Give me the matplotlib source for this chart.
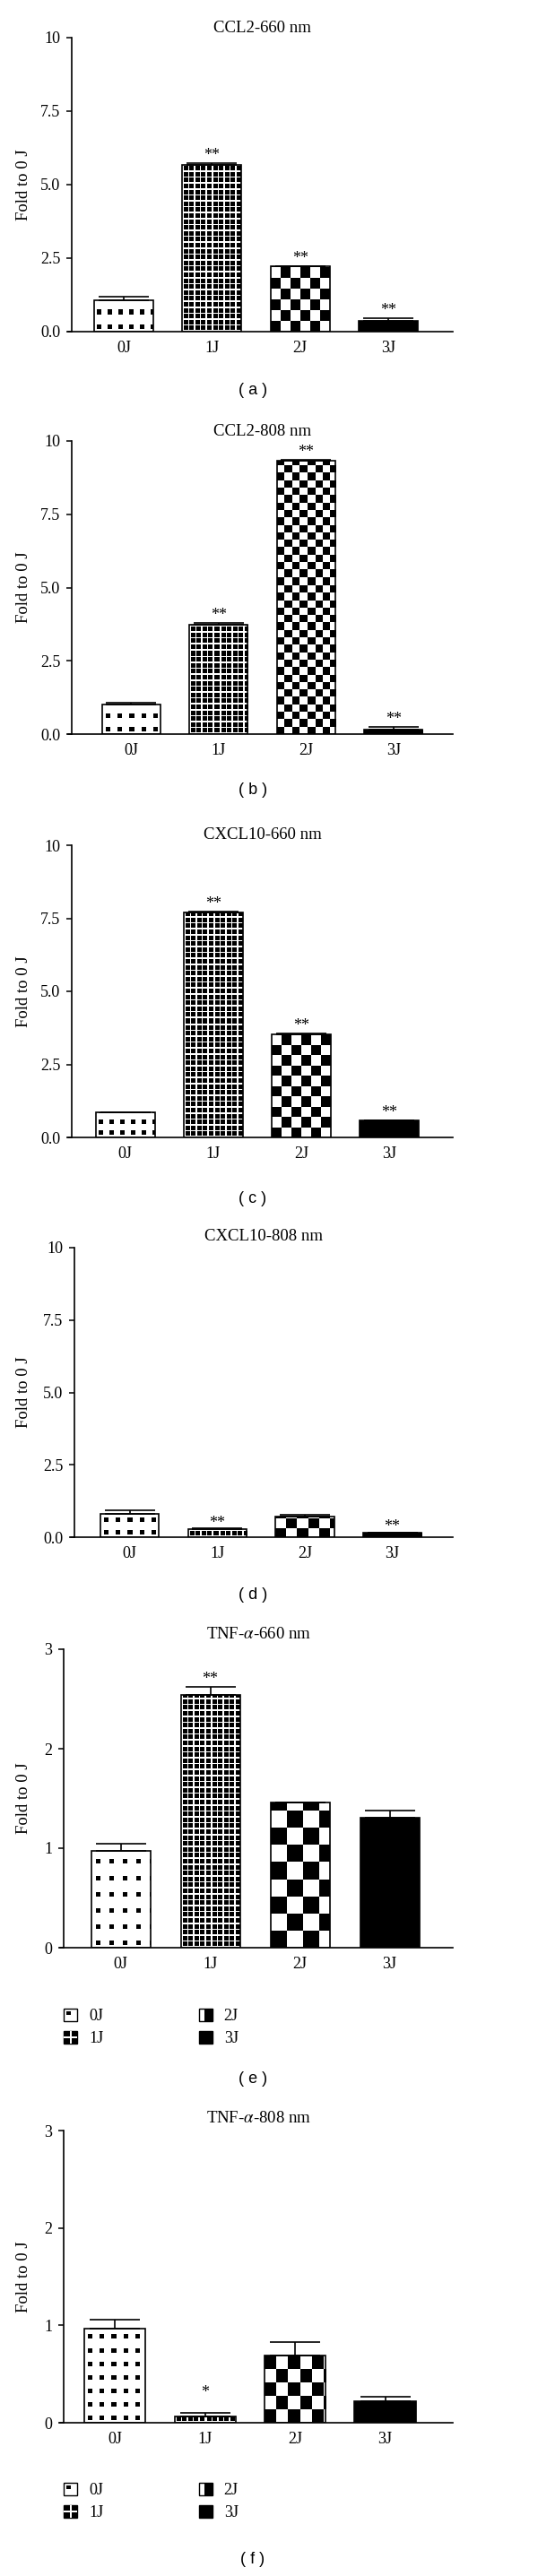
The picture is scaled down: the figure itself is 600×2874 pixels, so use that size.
import numpy as np
import matplotlib
matplotlib.use('Agg')
import matplotlib.pyplot as plt
from matplotlib.patches import Patch, Rectangle
from matplotlib.legend_handler import HandlerBase

plt.rcParams['font.family'] = ['Liberation Serif', 'DejaVu Serif']
plt.rcParams['mathtext.fontset'] = 'stix'

# Data
categories = ['0J', '1J', '2J', '3J']
titles = ['CCL2-660 nm', 'CCL2-808 nm', 'CXCL10-660 nm', 'CXCL10-808 nm',
          'TNF-$\\alpha$-660 nm', 'TNF-$\\alpha$-808 nm']
panel_tags = ['( a )', '( b )', '( c )', '( d )', '( e )', '( f )']

means_a = [1.07, 5.67, 2.22, 0.38]
err_a = [0.12, 0.05, 0.02, 0.09]
means_b = [1.00, 3.74, 9.33, 0.16]
err_b = [0.08, 0.04, 0.03, 0.07]
means_c = [0.85, 7.70, 3.52, 0.57]
err_c = [0.00, 0.03, 0.04, 0.02]
means_d = [0.80, 0.29, 0.72, 0.15]
err_d = [0.13, 0.02, 0.05, 0.02]
means_e = [0.976, 2.54, 1.46, 1.305]
err_e = [0.07, 0.08, 0.00, 0.07]
means_f = [0.97, 0.068, 0.69, 0.22]
err_f = [0.09, 0.035, 0.14, 0.05]

stars_a = ['', '**', '**', '**']
stars_b = ['', '**', '**', '**']
stars_c = ['', '**', '**', '**']
stars_d = ['', '**', '', '**']
stars_e = ['', '**', '', '']
stars_f = ['', '*', '', '']

yticks_big = [0, 2.5, 5, 7.5, 10]
yticklabels_big = ['0.0', '2.5', '5.0', '7.5', '10']
yticks_small = [0, 1, 2, 3]
yticklabels_small = ['0', '1', '2', '3']

all_means = [means_a, means_b, means_c, means_d, means_e, means_f]
all_err = [err_a, err_b, err_c, err_d, err_e, err_f]
all_stars = [stars_a, stars_b, stars_c, stars_d, stars_e, stars_f]

# layout in pixels: left, top, bottom, xlim, title y, tag y, star offset, pattern sizes
W, H = 600, 2874
layout = [
    dict(left=80, top=42, bottom=370, xlim=(-0.59, 3.73), ty=31, tag=435, so=0,
         dot=(12, 16), chk=(11, 12), width=0.67),
    dict(left=80, top=492, bottom=819, xlim=(-0.68, 3.68), ty=481, tag=882, so=0,
         dot=(13, 15), chk=(8.3, 8.3), width=0.67),
    dict(left=80, top=943, bottom=1269, xlim=(-0.61, 3.72), ty=932, tag=1337, so=0,
         dot=(12, 12), chk=(11, 11.5), width=0.67),
    dict(left=83, top=1392, bottom=1715, xlim=(-0.63, 3.69), ty=1379, tag=1780, so=-2,
         dot=(13, 14), chk=(12, 10), width=0.67),
    dict(left=71, top=1840, bottom=2173, xlim=(-0.635, 3.705), ty=1823, tag=2320, so=0,
         dot=(15, 18), chk=(18, 19), width=0.66),
    dict(left=71, top=2377, bottom=2703, xlim=(-0.57, 3.75), ty=2363, tag=2855, so=10,
         dot=(13, 15), chk=(13, 15), width=0.68),
]
kinds = ['dots', 'grid', 'checker', 'solid']


def make_pattern(kind, w, h, lay):
    ii, jj = np.meshgrid(np.arange(w) + 0.5, np.arange(h) + 0.5)
    if kind == 'dots':
        px, py = lay['dot']
        s = 5
        black = (((ii - px / 2 + s / 2) % px) < s) & (((jj - 3) % py) < s)
    elif kind == 'grid':
        g = 6.6
        black = ~(((ii % g) < 1.6) | ((jj % g) < 1.6))
    elif kind == 'checker':
        cx, cy = lay['chk']
        black = ((ii // cx + jj // cy) % 2) == 0
    else:
        black = np.ones_like(ii, dtype=bool)
    return np.where(black, 0.0, 1.0)


class IconHandler(HandlerBase):
    def __init__(self, kind):
        super().__init__()
        self.kind = kind

    def create_artists(self, legend, orig_handle, xdescent, ydescent,
                       width, height, fontsize, trans):
        x0, y0 = -xdescent, -ydescent
        fc = 'black' if self.kind in ('grid', 'solid') else 'white'
        arts = [Rectangle((x0, y0), width, height, facecolor=fc,
                          edgecolor='black', lw=1, transform=trans)]
        if self.kind == 'dots':
            arts.append(Rectangle((x0 + 0.22 * width, y0 + 0.5 * height),
                                  0.28 * width, 0.28 * height,
                                  facecolor='black', lw=0, transform=trans))
        elif self.kind == 'grid':
            arts.append(Rectangle((x0 + 0.44 * width, y0), 0.12 * width, height,
                                  facecolor='white', lw=0, transform=trans))
            arts.append(Rectangle((x0, y0 + 0.44 * height), width, 0.12 * height,
                                  facecolor='white', lw=0, transform=trans))
        elif self.kind == 'checker':
            arts.append(Rectangle((x0 + 0.4 * width, y0), 0.6 * width, height,
                                  facecolor='black', lw=0, transform=trans))
        return arts


fig = plt.figure(figsize=(W / 100, H / 100), dpi=100)

for k in range(6):
    lay = layout[k]
    means = all_means[k]
    errs = all_err[k]
    x = np.arange(len(categories))
    ax = fig.add_axes([lay['left'] / W, 1 - lay['bottom'] / H,
                       (505 - lay['left']) / W, (lay['bottom'] - lay['top']) / H])
    ymax = 10 if k < 4 else 3
    ax.set_xlim(*lay['xlim'])
    ax.set_ylim(0, ymax)

    bars = ax.bar(x, means, lay['width'], facecolor='none', edgecolor='black',
                  linewidth=1.2, zorder=3)
    ax.errorbar(x, means, yerr=[np.zeros(4), errs], fmt='none', ecolor='black',
                elinewidth=1.2, capsize=20, capthick=1.2, zorder=4)

    # fill each bar with its pattern, one image pixel per screen pixel
    sx = (505 - lay['left']) / (lay['xlim'][1] - lay['xlim'][0])
    sy = (lay['bottom'] - lay['top']) / ymax
    for xi, val, kind, bar in zip(x, means, kinds, bars):
        w_px = max(int(round(lay['width'] * sx)), 1)
        h_px = max(int(np.ceil(val * sy)), 1)
        img = make_pattern(kind, w_px, h_px, lay)
        im = ax.imshow(img, cmap='gray', vmin=0, vmax=1, origin='lower',
                       extent=(xi - lay['width'] / 2, xi + lay['width'] / 2, 0, h_px / sy),
                       interpolation='nearest', aspect='auto', zorder=2)
        im.set_clip_path(bar)

    for xi, val, e, st in zip(x, means, errs, all_stars[k]):
        if st:
            ax.annotate(st, (xi, val + e), xytext=(0, lay['so']),
                        textcoords='offset points', ha='center', va='bottom',
                        fontsize=13)

    ax.set_xlim(*lay['xlim'])
    ax.set_ylim(0, ymax)
    ax.set_xticks(x)
    ax.set_xticklabels(categories)
    if k < 4:
        ax.set_yticks(yticks_big)
        ax.set_yticklabels(yticklabels_big)
    else:
        ax.set_yticks(yticks_small)
        ax.set_yticklabels(yticklabels_small)
    ax.tick_params(axis='y', direction='out', length=4, width=1.1, labelsize=13, pad=5)
    ax.tick_params(axis='x', length=0, labelsize=13, pad=7)
    for s in ['top', 'right']:
        ax.spines[s].set_visible(False)
    for s in ['left', 'bottom']:
        ax.spines[s].set_linewidth(1.2)
    ax.spines['bottom'].set_bounds(lay['xlim'][0] - 0.04, lay['xlim'][1])

    ax.set_ylabel('Fold to 0 J', fontsize=13.5)
    ax.yaxis.set_label_coords((35 - lay['left']) / (505 - lay['left']), 0.5)

    fig.text((lay['left'] + 505) / 2 / W, 1 - lay['ty'] / H, titles[k],
             ha='center', va='center', fontsize=13.5)
    fig.text(282 / W, 1 - lay['tag'] / H, panel_tags[k], ha='center', va='center',
             fontsize=13, family=['Liberation Sans', 'DejaVu Sans'])

    if k >= 4:
        handles = [Patch(label=c) for c in categories]
        hmap = {h: IconHandler(kd) for h, kd in zip(handles, kinds)}
        ly = (2262 if k == 4 else 2791)
        fig.legend(handles=handles, labels=categories, handler_map=hmap,
                   loc='center left', bbox_to_anchor=(71 / W, 1 - ly / H),
                   ncol=2, frameon=False, fontsize=13, borderpad=0,
                   borderaxespad=0, handlelength=0.85, handleheight=0.85,
                   handletextpad=0.7, labelspacing=0.4, columnspacing=5.9)

fig.savefig('out.png', dpi=100)
